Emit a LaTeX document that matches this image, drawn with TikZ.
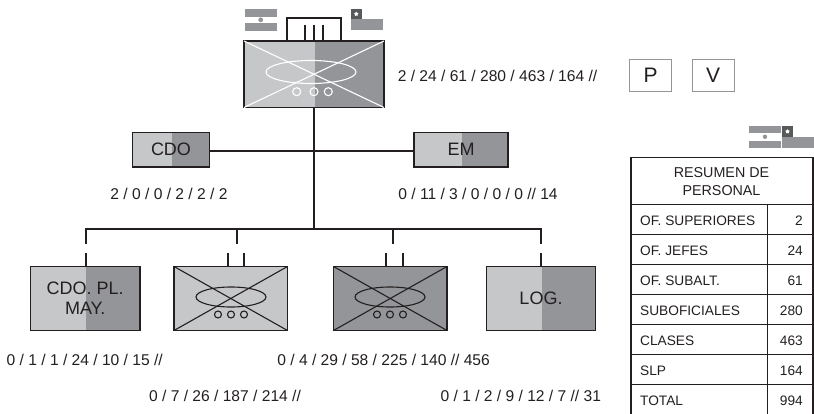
\documentclass[tikz,border=0pt]{standalone}
\usepackage{fontspec}
\setmainfont{Liberation Sans}
\usetikzlibrary{shapes.geometric, positioning}
\definecolor{unitlight}{RGB}{198,199,201}
\definecolor{unitdark}{RGB}{147,149,152}
\definecolor{flagdark}{RGB}{88,89,91}
\definecolor{inkblack}{RGB}{35,31,32}
\tikzset{
  unitbox/.style={draw=inkblack, line width=1.2pt, inner sep=0pt, outer sep=0pt, align=center, text=inkblack, font=\fontsize{18}{20}\selectfont},
  sumtext/.style={text=inkblack, inner sep=0pt, font=\fontsize{15.6}{17}\selectfont},
  rowtext/.style={text=inkblack, inner sep=0pt, font=\fontsize{13.7}{17}\selectfont},
  letterbox/.style={draw=unitdark, line width=0.9pt, inner sep=0pt, text=inkblack, minimum height=32pt, font=\fontsize{21}{22}\selectfont},
  wire/.style={draw=inkblack, line width=1.9pt},
  whiteline/.style={draw=white, line width=1.1pt},
  darkline/.style={draw=inkblack, line width=1.1pt},
}
\begin{document}
\begin{tikzpicture}[x=1pt,y=-1pt]
  \useasboundingbox (0,0) rectangle (814,414);

  % command unit
  \fill[unitlight] (244,41) rectangle (314.5,107.5);
  \fill[unitdark]  (314.5,41) rectangle (384,107.5);
  \node[unitbox, minimum width=140pt, minimum height=66.5pt] (hq) at (314,74.25) {};
  \draw[whiteline] (hq.north west) -- (hq.south east);
  \draw[whiteline] (hq.north east) -- (hq.south west);
  \draw[whiteline] (311,72) ellipse (45 and 11.5);
  \foreach \x in {296.7,314,328.3} \draw[whiteline] (\x,91.7) circle (4);

  % flags above the command unit
  \fill[unitdark] (245,8.7) rectangle (277,16.7);
  \fill[unitdark] (245,23.3) rectangle (277,31);
  \fill[unitdark] (260.7,19.8) circle (2.4);
  \fill[unitdark] (351,19) rectangle (383,30.5);
  \fill[flagdark] (351,9) rectangle (361.7,19);
  \node[star, star points=5, fill=white, inner sep=0pt, minimum size=4.5pt] (starA) at (356.3,14) {};

  % staff boxes
  \fill[unitlight] (132.5,132.5) rectangle (172,167);
  \fill[unitdark]  (172,132.5) rectangle (209.5,167);
  \node[unitbox, minimum width=77pt, minimum height=34.5pt] (cdo) at (171,149.75) {CDO};
  \fill[unitlight] (414,132.5) rectangle (462,167);
  \fill[unitdark]  (462,132.5) rectangle (508,167);
  \node[unitbox, minimum width=94pt, minimum height=34.5pt] (em) at (461,149.75) {EM};

  % lower units
  \fill[unitlight] (30.5,266.5) rectangle (86,330.5);
  \fill[unitdark]  (86,266.5) rectangle (140,330.5);
  \node[unitbox, minimum width=109.5pt, minimum height=64pt] (plana) at (85.25,298.5) {CDO. PL.\\MAY.};
  \fill[unitlight] (174,266.5) rectangle (287.5,330.5);
  \node[unitbox, minimum width=113.5pt, minimum height=64pt] (unita) at (230.75,298.5) {};
  \fill[unitdark] (333.5,266.5) rectangle (447,330.5);
  \node[unitbox, minimum width=113.5pt, minimum height=64pt] (unitb) at (390.25,298.5) {};
  \fill[unitlight] (486.5,266.5) rectangle (542,330.5);
  \fill[unitdark]  (542,266.5) rectangle (595.5,330.5);
  \node[unitbox, minimum width=109pt, minimum height=64pt] (log) at (541,298.5) {LOG.};

  \foreach \n/\cx in {unita/231,unitb/390} {
    \draw[darkline] (\n.north west) -- (\n.south east);
    \draw[darkline] (\n.north east) -- (\n.south west);
    \draw[darkline] (\cx,297) ellipse (35 and 10);
    \foreach \d in {-13,0,13} \draw[darkline] (\cx+\d,314.5) circle (3.5);
  }

  % connectors
  \coordinate (bus) at (314,229);
  \coordinate (staff) at (314,151);
  \draw[wire] (hq.south -| bus) -- (bus);
  \draw[wire] (cdo.east |- staff) -- (em.west |- staff);
  \coordinate (busl) at (86,229);
  \coordinate (busr) at (541,229);
  \draw[wire] (86,244) -- (busl) -- (busr) -- (541,244);
  \coordinate (dropa) at (237,229);
  \coordinate (dropb) at (393,229);
  \draw[wire] (dropa) -- ++(0,15);
  \draw[wire] (dropb) -- ++(0,15);
  \foreach \n/\x in {plana/86,unita/228,unita/244,unitb/386,unitb/403,log/541}
    \draw[wire] (\x,253) -- (\n.north -| \x,0);
  \coordinate (lnka) at (287,18);
  \coordinate (lnkb) at (341,18);
  \draw[wire] (hq.north -| lnka) -- (lnka) -- (lnkb) -- (hq.north -| lnkb);
  \foreach \x in {305,314,323}
    \draw[wire] (\x,25) -- (hq.north -| \x,0);

  % personnel figures
  \node[sumtext] (sumhq) at (497.5,76) {2 / 24 / 61 / 280 / 463 / 164 //};
  \node[sumtext] (sumcdo) at (169,194) {2 / 0 / 0 / 2 / 2 / 2};
  \node[sumtext] (sumem) at (478,194) {0 / 11 / 3 / 0 / 0 / 0 // 14};
  \node[sumtext] (sumpl) at (84.7,359.5) {0 / 1 / 1 / 24 / 10 / 15 //};
  \node[sumtext] (sumb) at (383.6,359.5) {0 / 4 / 29 / 58 / 225 / 140 // 456};
  \node[sumtext] (suma) at (225,396) {0 / 7 / 26 / 187 / 214 //};
  \node[sumtext] (sumlog) at (520.8,396) {0 / 1 / 2 / 9 / 12 / 7 // 31};

  % P and V
  \node[letterbox, minimum width=42.5pt] (boxp) at (650.5,75) {P};
  \node[letterbox, minimum width=42pt] (boxv) at (713,75) {V};

  % flags above the table
  \fill[unitdark] (749,126) rectangle (781,133);
  \fill[unitdark] (749,141) rectangle (781,147.7);
  \fill[unitdark] (765,136.8) circle (2.2);
  \fill[unitdark] (782,136.7) rectangle (814,147.7);
  \fill[flagdark] (782,126) rectangle (793,136.7);
  \node[star, star points=5, fill=white, inner sep=0pt, minimum size=4.5pt] (starB) at (787.5,131.5) {};

  % summary table
  \draw[darkline] (631,414) -- (631,157.3) -- (813,157.3) -- (813,414);
  \draw[darkline] (767.3,204.3) -- (767.3,414);
  \foreach \y in {204.3,234.3,264.3,294.3,324.3,354.3,384.3}
    \draw[darkline] (631,\y) -- (813,\y);
  \node[rowtext, align=center, font=\fontsize{14.3}{17.5}\selectfont] (title) at (721.5,181.7) {RESUMEN DE\\PERSONAL};
  \foreach \y/\lab/\val in {220.5/OF. SUPERIORES/2,250.5/OF. JEFES/24,280.5/OF. SUBALT./61,310.5/SUBOFICIALES/280,340.5/CLASES/463,370.5/SLP/164,400.5/TOTAL/994} {
    \node[rowtext, anchor=west] (lab\val) at (640,\y) {\lab};
    \node[rowtext, anchor=east] (val\val) at (803,\y) {\val};
  }
\end{tikzpicture}
\end{document}
